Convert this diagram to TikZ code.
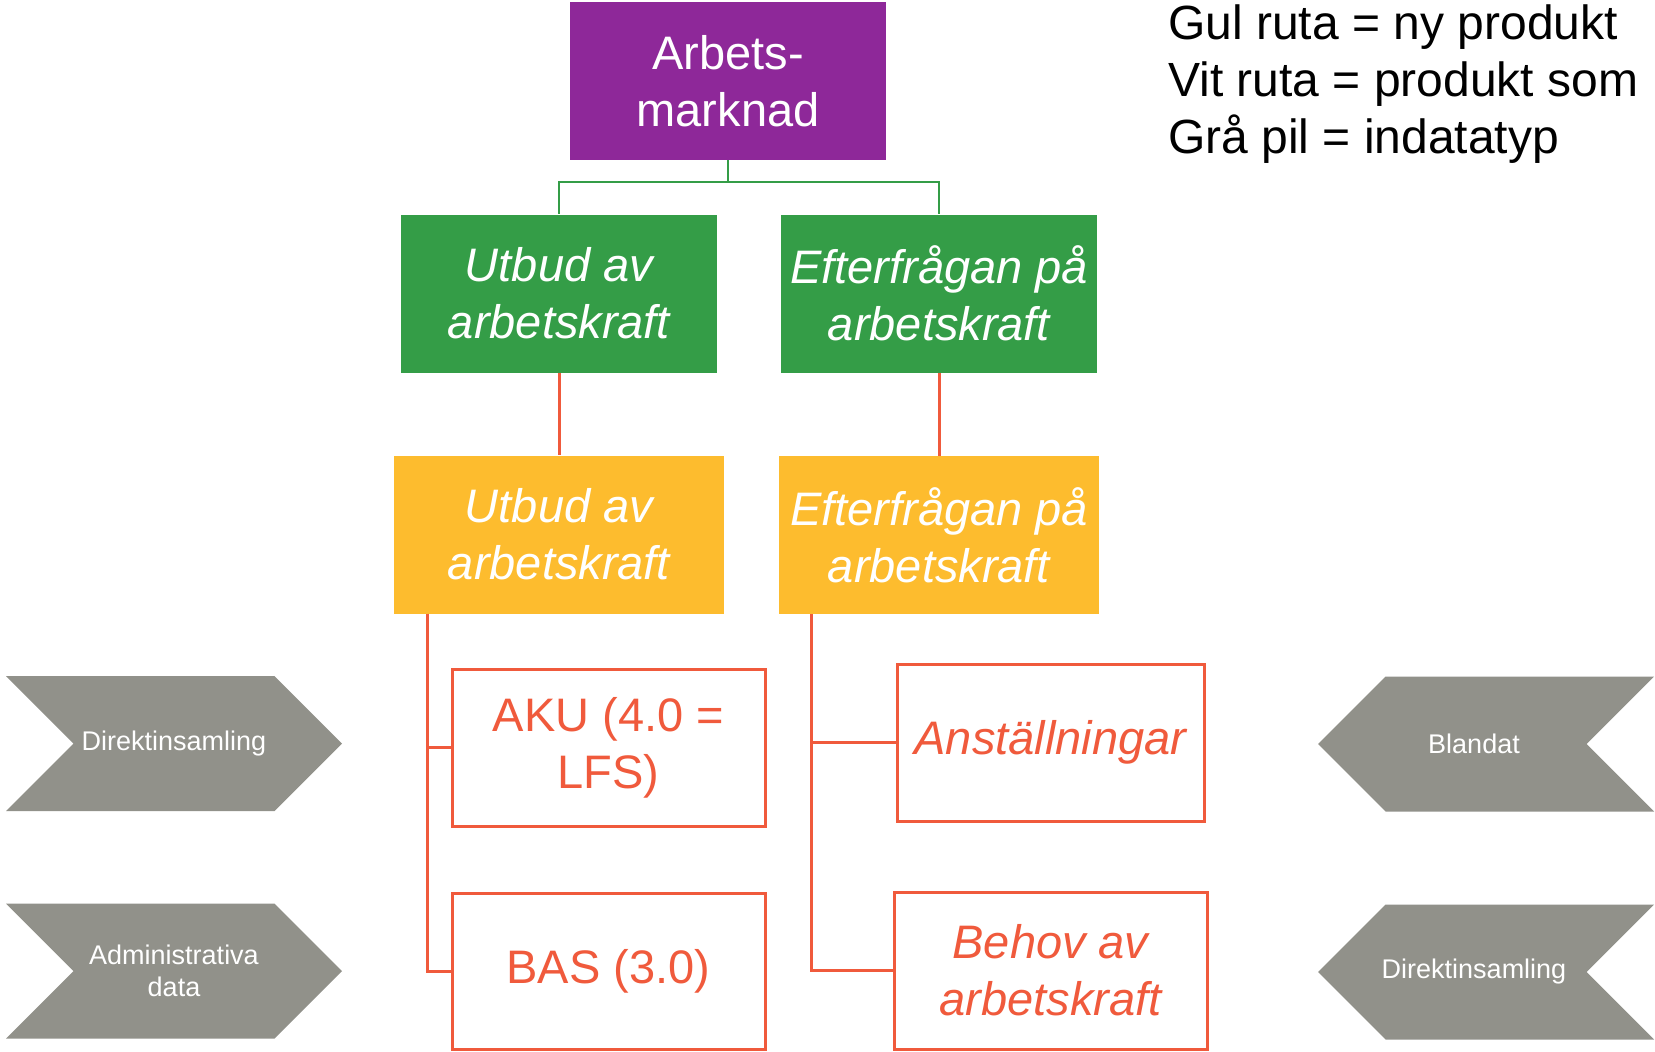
\documentclass[tikz,border=0pt]{standalone}
\usepackage{fontspec}
\setmainfont{Liberation Sans}
\usepackage{tikz}
\usetikzlibrary{positioning,calc,shapes.symbols}
\definecolor{amPurple}{HTML}{8E2899}
\definecolor{amGreen}{HTML}{349D47}
\definecolor{amYellow}{HTML}{FDBC2E}
\definecolor{amRed}{HTML}{F05A3C}
\definecolor{amGray}{HTML}{91918A}
\newcommand{\boxsize}{\fontsize{47}{57}\selectfont}
\newcommand{\pilsize}{\fontsize{27}{32}\selectfont}
\tikzset{
	box/.style={rectangle,minimum width=316pt,minimum height=158pt,inner sep=2pt,align=center,text=white,font=\boxsize},
	topbox/.style={box,fill=amPurple},
	mainbox/.style={box,fill=amGreen,font=\boxsize\itshape},
	newbox/.style={box,fill=amYellow,font=\boxsize\itshape},
	prodbox/.style={box,draw=amRed,line width=3pt,fill=white,text=amRed},
	grnline/.style={draw=amGreen,line width=2.5pt},
	redline/.style={draw=amRed,line width=3pt},
	pil/.style={signal,fill=amGray,minimum width=336pt,minimum height=135pt,inner sep=0pt,text=white,font=\pilsize,align=center},
	inpil/.style={pil,signal from=west,signal to=east},
	utpil/.style={pil,signal from=east,signal to=west},
	piltext/.style={text=white,font=\pilsize,align=center}
}
\begin{document}
\begin{tikzpicture}[x=1pt,y=-1pt]
	\useasboundingbox (0,0) rectangle (1655,1052);
	%%% boxes
	\node[topbox] (top) at (728,81) {Arbets-\\marknad};
	\node[mainbox] (gsup) at (559,293.5) {Utbud av\\arbetskraft};
	\node[mainbox] (gdem) at (939,293.5) {Efterfrågan på\\arbetskraft};
	\node[newbox,minimum width=330pt] (ysup) at (559,534.5) {Utbud av\\arbetskraft};
	\node[newbox,minimum width=320pt] (ydem) at (939,535) {Efterfrågan på\\arbetskraft};
	\node[prodbox,minimum width=313pt,minimum height=157pt] (aku) at (608.5,747.5) {AKU (4.0 =\\LFS)};
	\node[prodbox,minimum width=313pt,minimum height=156pt] (bas) at (608.5,971) {BAS (3.0)};
	\node[prodbox,minimum width=307pt,minimum height=157pt,font=\boxsize\itshape] (anst) at (1050.5,742.5) {Anställningar};
	\node[prodbox,minimum width=313pt,minimum height=157pt,font=\boxsize\itshape] (behov) at (1050.5,970.5) {Behov av\\arbetskraft};

	%%% input arrows
	\node[inpil] (pil1) at (174,743.5) {Direktinsamling};
	\node[inpil] (pil2) at (174,971) {Administrativa\\data};
	\node[utpil,label={[piltext,xshift=-12pt]center:Blandat}] (pil3) at (1486,744) {};
	\node[utpil,label={[piltext,xshift=-12pt]center:Direktinsamling}] (pil4) at (1486,972) {};

	%%% legend
	\node[anchor=north west,inner sep=0pt,align=left,font=\fontsize{48}{57}\selectfont] (legend) at (1168,5)
		{Gul ruta = ny produkt\\Vit ruta = produkt som\\Grå pil = indatatyp};

	%%% connectors
	\draw[grnline] (top.south) -- ++(0,22) -| (gsup.north);
	\draw[grnline] (top.south) -- ++(0,22) -| (gdem.north);
	\draw[redline] (gsup.south) -- (ysup.north);
	\draw[redline] (gdem.south) -- (ydem.north);
	\draw[redline] ([xshift=34pt]ysup.south west) |- (aku.west);
	\draw[redline] ([xshift=34pt]ysup.south west) |- (bas.west);
	\draw[redline] ([xshift=33pt]ydem.south west) |- (anst.west);
	\draw[redline] ([xshift=33pt]ydem.south west) |- (behov.west);
\end{tikzpicture}
\end{document}
